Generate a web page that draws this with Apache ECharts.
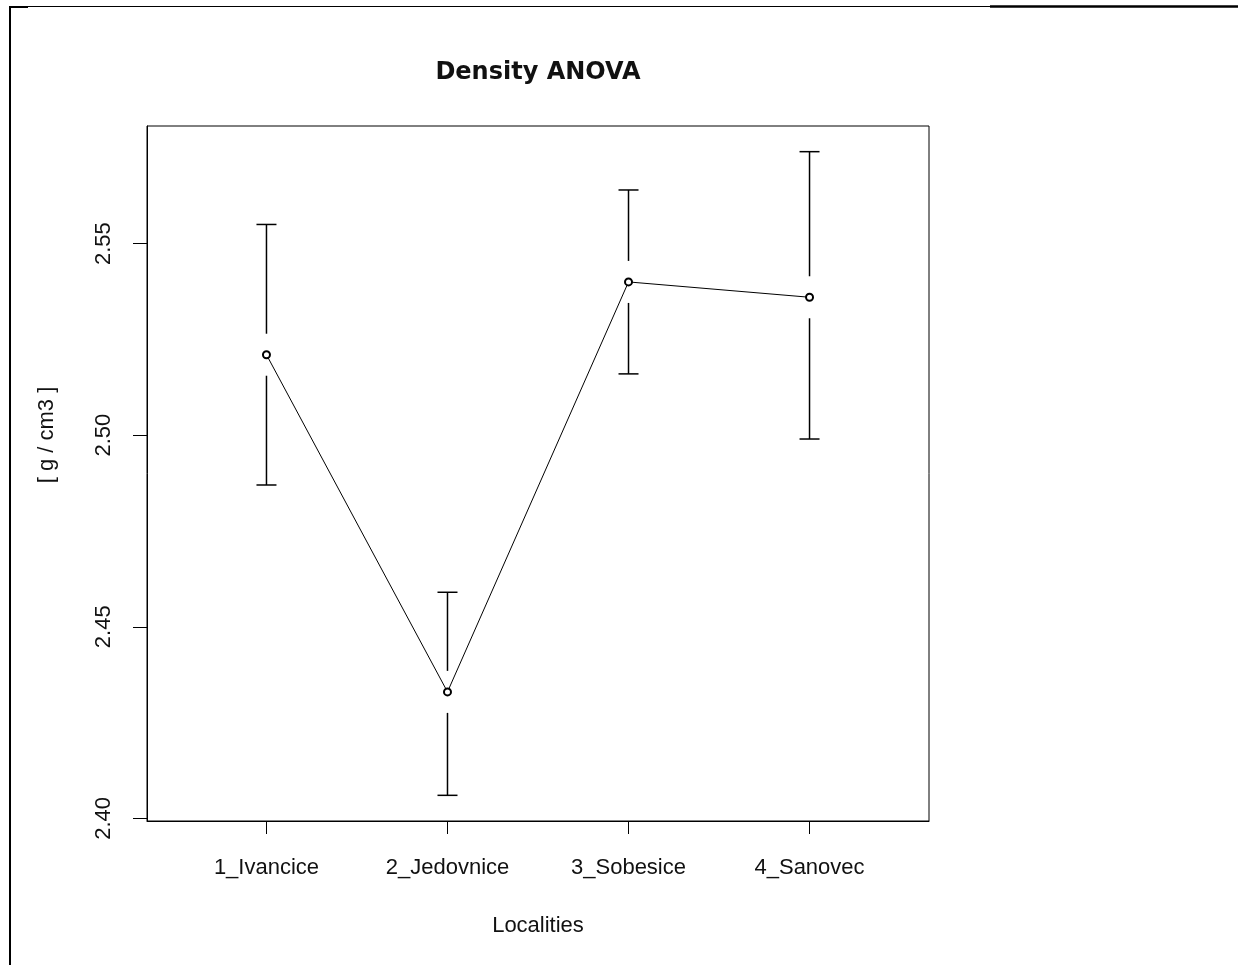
<!DOCTYPE html>
<html>
<head>
<meta charset="utf-8">
<title>Density ANOVA</title>
<script src="https://cdn.jsdelivr.net/npm/echarts@6/dist/echarts.min.js"></script>
<style>
  html, body { margin: 0; padding: 0; background: #fff; }
  #chart { width: 1238px; height: 965px; }
</style>
</head>
<body>
<div id="chart"></div>
<script>
// data (means with confidence bounds)
const localities = ['1_Ivancice', '2_Jedovnice', '3_Sobesice', '4_Sanovec'];
const positions = [1, 2, 3, 4];
const means = [2.521, 2.433, 2.540, 2.536];
const lower = [2.487, 2.406, 2.516, 2.499];
const upper = [2.555, 2.459, 2.564, 2.574];
const yTicks = [2.40, 2.45, 2.50, 2.55];

const GAP = 21;   // gap around the mean point, px
const CAP = 10;   // half width of the caps, px

let chart = echarts.init(document.getElementById('chart'));

chart.setOption({
    animation: false,
    backgroundColor: '#fff',
    title: {
        text: 'Density ANOVA',
        left: 533,
        textAlign: 'center',
        top: 56,
        textStyle: { fontFamily: 'DejaVu Sans', fontWeight: 'bold', fontSize: 24, color: '#111' }
    },
    grid: { left: 147, top: 126, width: 782, height: 695, show: true, borderColor: '#000', borderWidth: 1 },
    xAxis: {
        type: 'value',
        min: 0.34,
        max: 4.66,
        name: 'Localities',
        nameLocation: 'middle',
        nameGap: 94,
        nameTextStyle: { fontFamily: 'Liberation Sans', fontSize: 22, color: '#111' },
        splitLine: { show: false },
        axisLine: { lineStyle: { color: '#000', width: 1 } },
        axisTick: { customValues: positions, length: 13, lineStyle: { color: '#000' } },
        axisLabel: {
            customValues: positions,
            margin: 36,
            fontFamily: 'Liberation Sans', fontSize: 22, color: '#111',
            formatter: v => localities[Math.round(v) - 1]
        }
    },
    yAxis: {
        type: 'value',
        min: 2.3993,
        max: 2.5807,
        splitLine: { show: false },
        axisLine: { lineStyle: { color: '#000', width: 1 } },
        axisTick: { customValues: yTicks, length: 14, lineStyle: { color: '#000' } },
        axisLabel: {
            customValues: yTicks,
            rotate: 90,
            margin: 32,
            fontFamily: 'Liberation Sans', fontSize: 22, color: '#111',
            formatter: v => v.toFixed(2)
        }
    },
    graphic: [
        // frame of the surrounding page
        { type: 'line', shape: { x1: 10, y1: 6, x2: 10, y2: 965 }, style: { stroke: '#000', lineWidth: 2 } },
        { type: 'line', shape: { x1: 10, y1: 6.5, x2: 990, y2: 6.5 }, style: { stroke: '#000', lineWidth: 1 } },
        { type: 'line', shape: { x1: 10, y1: 7, x2: 28, y2: 7 }, style: { stroke: '#000', lineWidth: 2 } },
        { type: 'line', shape: { x1: 990, y1: 6.5, x2: 1238, y2: 6.5 }, style: { stroke: '#000', lineWidth: 2.5 } },
        {
            type: 'text', x: 47, y: 435, rotation: Math.PI / 2,
            style: { text: '[ g / cm3 ]', fontFamily: 'Liberation Sans', fontSize: 22, fill: '#111', align: 'center', verticalAlign: 'middle' }
        }
    ],
    series: [
        {
            type: 'custom',
            name: 'ci',
            data: positions.map((p, i) => [p, means[i], lower[i], upper[i]]),
            renderItem(params, api) {
                const c = api.coord([api.value(0), api.value(1)]);
                const lo = api.coord([api.value(0), api.value(2)]);
                const hi = api.coord([api.value(0), api.value(3)]);
                const st = { stroke: '#000', lineWidth: 1.5 };
                const ch = [
                    { type: 'line', shape: { x1: hi[0] - CAP, y1: hi[1], x2: hi[0] + CAP, y2: hi[1] }, style: st },
                    { type: 'line', shape: { x1: lo[0] - CAP, y1: lo[1], x2: lo[0] + CAP, y2: lo[1] }, style: st }
                ];
                if (hi[1] < c[1] - GAP) ch.push({ type: 'line', shape: { x1: c[0], y1: hi[1], x2: c[0], y2: c[1] - GAP }, style: st });
                if (lo[1] > c[1] + GAP) ch.push({ type: 'line', shape: { x1: c[0], y1: c[1] + GAP, x2: c[0], y2: lo[1] }, style: st });
                return { type: 'group', children: ch };
            }
        },
        {
            type: 'line',
            name: 'mean',
            data: positions.map((p, i) => [p, means[i]]),
            showSymbol: true,
            symbol: 'emptyCircle',
            symbolSize: 7,
            itemStyle: { color: '#000', borderColor: '#000', borderWidth: 1.3 },
            lineStyle: { color: '#000', width: 1 }
        }
    ]
});
</script>
</body>
</html>
